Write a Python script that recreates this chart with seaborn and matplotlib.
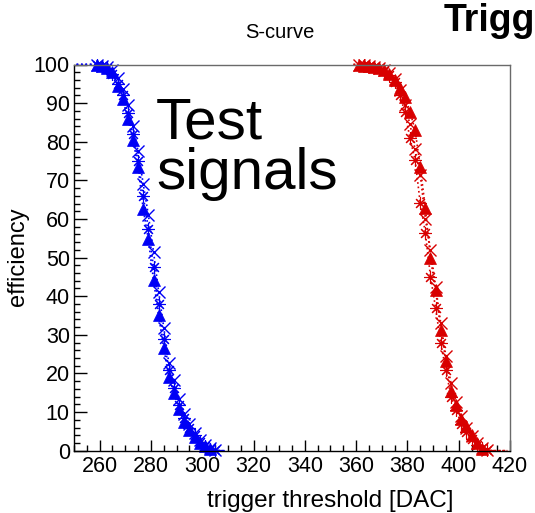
import matplotlib
matplotlib.use("Agg")
import matplotlib.pyplot as plt
from matplotlib.ticker import MultipleLocator
import seaborn as sns

# ---- threshold scan data -------------------------------------------------
blue_dac = [251, 253, 255, 257, 259, 261, 263, 265, 267, 269, 271, 273, 275,
            277, 279, 281, 283, 285, 287, 289, 291, 293, 295, 297, 299, 301,
            303, 305, 307, 309]
blue_tri = [100, 100, 100, 100, 99.8, 99.6, 99.2, 98.0, 94.5, 91.0, 86.0,
            80.4, 73.5, 62.5, 54.7, 44.2, 35.1, 26.5, 19.2, 14.9, 10.7, 7.5,
            5.4, 3.5, 1.9, 1.2, 0.4, 0, 0, 0]
blue_cross = [100, 100, 100, 100, 99.9, 99.7, 99.4, 98.6, 96.5, 93.6, 89.5,
              84.0, 77.5, 69.0, 61.0, 51.5, 41.2, 31.9, 22.6, 18.3, 13.5, 9.6,
              6.8, 4.6, 2.9, 1.6, 0.7, 0.2, 0, 0]
blue_star = [100, 100, 100, 100, 99.8, 99.5, 99.0, 97.5, 95.0, 92.0, 87.5,
             82.0, 75.0, 66.0, 57.5, 47.5, 38.0, 29.0, 21.0, 16.2, 11.8, 8.4,
             6.0, 4.0, 2.3, 1.3, 0.5, 0.1, 0, 0]

red_dac = [359, 361, 363, 365, 367, 369, 371, 373, 375, 377, 379, 381, 383,
           385, 387, 389, 391, 393, 395, 397, 399, 401, 403, 405, 407, 409,
           411, 413, 415, 417, 419]
red_tri = [100, 99.8, 99.7, 99.5, 99.3, 99.0, 98.5, 97.5, 96.0, 93.8, 91.7,
           87.8, 83.0, 73.5, 62.8, 49.8, 41.6, 31.3, 23.3, 15.5, 11.8, 8.1,
           6.4, 4.1, 1.9, 0.5, 0, 0, 0, 0, 0]
red_star = [100, 100, 99.8, 99.6, 99.3, 99.0, 98.4, 97.2, 95.5, 92.0, 87.8,
            80.9, 75.3, 64.1, 56.4, 45.1, 36.9, 27.8, 20.9, 14.0, 10.5, 7.0,
            4.8, 3.0, 1.5, 0.6, 0.1, 0, 0, 0, 0]
red_cross = [100, 99.9, 99.8, 99.6, 99.4, 99.1, 98.7, 97.8, 96.3, 93.5, 89.5,
             84.5, 78.0, 71.5, 60.0, 52.0, 42.5, 33.0, 24.5, 17.5, 12.5, 9.0,
             6.0, 3.8, 2.0, 0.8, 0.2, 0, 0, 0, 0]

x_ticks = [260, 280, 300, 320, 340, 360, 380, 400, 420]
y_ticks = [0, 10, 20, 30, 40, 50, 60, 70, 80, 90, 100]

BLUE = "#0000f5"
RED = "#d80000"

sns.set_style("white")
plt.rcParams["font.family"] = ["Liberation Sans", "DejaVu Sans"]
plt.rcParams["text.color"] = "black"
plt.rcParams["axes.labelcolor"] = "black"
plt.rcParams["xtick.color"] = "black"
plt.rcParams["ytick.color"] = "black"

W, H = 535, 513
fig = plt.figure(figsize=(W / 100, H / 100), dpi=100)
ax = fig.add_axes([74 / W, 1 - 450.7 / H, 436 / W, 386.2 / H])

series = [
    (blue_dac, blue_star, BLUE, (8, 2, 0), 9, 0.8),
    (blue_dac, blue_cross, BLUE, "x", 8, 1.0),
    (blue_dac, blue_tri, BLUE, "^", 8, 0.5),
    (red_dac, red_star, RED, (8, 2, 0), 9, 0.8),
    (red_dac, red_cross, RED, "x", 8, 1.0),
    (red_dac, red_tri, RED, "^", 8, 0.5),
]
for xs, ys, col, mk, ms, mew in series:
    # points sitting exactly on the frame edges (0 or 100 %) get no marker
    show = [0 < v < 100 for v in ys]
    sns.lineplot(x=xs, y=ys, ax=ax, color=col, linestyle=":", linewidth=1.2,
                 marker=mk, markersize=ms, markeredgecolor=col,
                 markerfacecolor=col, markeredgewidth=mew, markevery=show,
                 clip_on=False, estimator=None, sort=False, legend=False)

ax.set_xlim(250, 420)
ax.set_ylim(0, 100)
ax.set_xticks(x_ticks)
ax.set_yticks(y_ticks)
ax.xaxis.set_minor_locator(MultipleLocator(5))
ax.yaxis.set_minor_locator(MultipleLocator(2))
ax.tick_params(axis="both", which="both", direction="in", colors="black",
               bottom=True, left=True, top=False, right=False,
               labelsize=15.5)
ax.tick_params(axis="x", which="major", length=8, width=1, pad=4)
ax.tick_params(axis="x", which="minor", length=4, width=1)
ax.tick_params(axis="y", which="major", length=9, width=1, pad=3)
ax.tick_params(axis="y", which="minor", length=4.5, width=1)

for side in ("left", "bottom"):
    ax.spines[side].set_color("black")
    ax.spines[side].set_linewidth(1.0)
for side in ("top", "right"):
    ax.spines[side].set_color("#6a6a6a")
    ax.spines[side].set_linewidth(1.0)

ax.set_xlabel("trigger threshold [DAC]", fontsize=17.5, va="center")
ax.xaxis.set_label_coords((330 - 74) / 436, (450.7 - 501) / 386.2)
ax.set_ylabel("efficiency", fontsize=17, va="center")
ax.yaxis.set_label_coords((18 - 74) / 436, (450.7 - 256.5) / 386.2)

fig.text(280 / W, 1 - 32 / H, "S-curve", fontsize=14.5, ha="center",
         va="center")
fig.text(444 / W, 1 - 31 / H, "Trigg", fontsize=27, fontweight="bold",
         ha="left", va="baseline")
fig.text(156 / W, 1 - 139 / H, "Test", fontsize=42, ha="left",
         va="baseline")
fig.text(156 / W, 1 - 189 / H, "signals", fontsize=42, ha="left",
         va="baseline")

fig.savefig("out.png", dpi=100)
